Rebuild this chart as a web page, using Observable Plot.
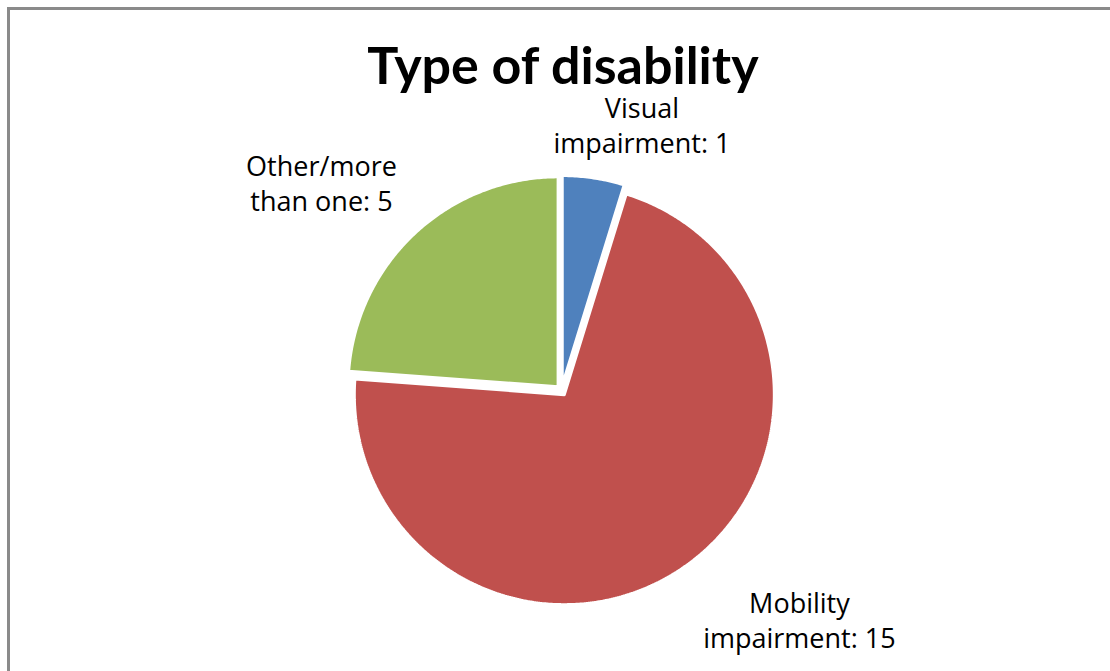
<!DOCTYPE html>
<html><head><meta charset="utf-8">
<script src="https://cdn.jsdelivr.net/npm/d3@7"></script>
<script src="https://cdn.jsdelivr.net/npm/@observablehq/plot@0.6"></script>
<style>
body{margin:0;background:#fff;}
#wrap{position:relative;width:1110px;height:671px;overflow:hidden;background:#fff;}
#border{position:absolute;left:7px;top:7px;width:1200px;height:800px;border:3px solid #8a8a8a;box-sizing:border-box;}
#chart{position:absolute;left:0;top:0;}
</style></head><body>
<div id="wrap"><div id="border"></div><div id="chart"></div></div>
<script>
// ---- data ----
const categories = ["Visual impairment", "Mobility impairment", "Other/more than one"];
const values = [1, 15, 5];
const labels = ["Visual\nimpairment: 1", "Mobility\nimpairment: 15", "Other/more\nthan one: 5"];
const colors = ["#4F81BD", "#C0504D", "#9BBB59"];
const title = "Type of disability";

// ---- layout ----
const W = 1110, H = 671;
const cx = 561, cy = 390, R = 210;     // pie centre & radius in px
const explode = 5 / R;                  // explosion distance (unit radius)
const labelPos = [[0.383, 1.268], [1.133, -1.088], [-1.143, 0.992]]; // label centres, unit coords
const titlePos = [0.007, 1.54];

// ---- pie geometry from values ----
const arcs = d3.pie().sort(null).value(d => d)(values);
const pts = [];
arcs.forEach((a, i) => {
  const mid = (a.startAngle + a.endAngle) / 2;
  const ox = explode * Math.sin(mid), oy = explode * Math.cos(mid);
  const name = categories[i];
  pts.push({name, x: ox, y: oy});
  const n = Math.max(8, Math.ceil((a.endAngle - a.startAngle) / 0.01));
  for (let k = 0; k <= n; k++) {
    const t = a.startAngle + (a.endAngle - a.startAngle) * k / n;
    pts.push({name, x: ox + Math.sin(t), y: oy + Math.cos(t)});
  }
  pts.push({name, x: ox, y: oy});
});
const labelData = categories.map((c, i) => ({name: c, text: labels[i], x: labelPos[i][0], y: labelPos[i][1]}));

const chart = Plot.plot({
  width: W, height: H,
  margin: 0,
  x: {type: "linear", domain: [-1, 1], range: [cx - R, cx + R], axis: null},
  y: {type: "linear", domain: [-1, 1], range: [cy + R, cy - R], axis: null},
  color: {domain: categories, range: colors},
  style: {background: "transparent", overflow: "visible"},
  marks: [
    Plot.line(pts, {x: "x", y: "y", z: "name", fill: "name", stroke: "white", strokeWidth: 3, strokeLinejoin: "miter", curve: "linear"}),
    Plot.text(labelData, {x: "x", y: "y", text: "text", fontSize: 27, lineHeight: 1.3, fill: "#000", fontFamily: "Open Sans", textAnchor: "middle"}),
    Plot.text([title], {x: () => titlePos[0], y: () => titlePos[1], text: d => d, fontSize: 52, fontWeight: "bold", fontFamily: "Lato", fill: "#000"})
  ]
});
document.getElementById("chart").appendChild(chart);
</script>
</body></html>
